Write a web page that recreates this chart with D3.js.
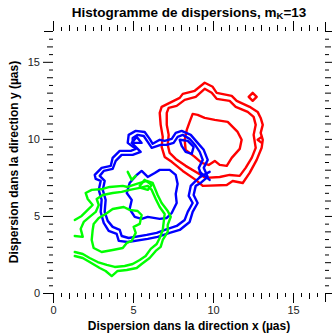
<!DOCTYPE html>
<html>
<head>
<meta charset="utf-8">
<script src="https://cdn.jsdelivr.net/npm/d3@7"></script>
<style>
  html, body { margin: 0; padding: 0; background: #fff; }
  svg { display: block; }
</style>
</head>
<body>
<svg id="chart" width="332" height="335"></svg>
<script>
// axis ranges and labelled ticks
const xDomain = [0, 17];
const yDomain = [0, 17];
const majorTicks = [0, 5, 10, 15];

// contour lines, [x, y] in µas
const redLevel1 = [[6.67,11.69],[6.79,12.08],[7.29,12.34],[7.92,12.66],[8.11,12.92],[8.86,13.12],[9.48,13.64],[9.98,13.38],[10.23,12.99],[11.17,12.79],[11.48,12.47],[12.29,12.08],[12.79,11.75],[12.98,11.36],[13.11,10.91],[12.98,10.39],[13.11,9.94],[13.04,9.42],[12.73,8.64],[12.29,7.79],[11.86,7.14],[11.23,7.27],[10.86,7.01],[9.36,6.95],[8.92,7.34],[8.11,7.92],[7.42,8.51],[6.98,8.83],[6.79,9.48],[6.86,10.13],[6.73,10.91]];
const redLevel2 = [[7.11,11.69],[7.23,12.01],[7.73,12.14],[8.23,12.53],[8.92,12.73],[9.48,13.25],[9.92,12.99],[10.23,12.60],[11.04,12.47],[11.42,12.08],[12.17,11.75],[12.54,11.43],[12.67,10.91],[12.54,10.26],[12.67,9.42],[12.42,8.77],[12.04,8.12],[11.67,7.60],[11.04,7.66],[10.42,7.53],[9.54,7.47],[9.04,7.79],[8.29,8.25],[7.67,8.70],[7.29,9.09],[7.17,9.61],[7.23,10.26],[7.11,10.91]];
const redLevel3 = [[8.73,11.62],[9.04,11.56],[9.48,11.36],[10.11,11.23],[10.92,11.10],[11.54,10.45],[11.79,9.94],[11.67,9.35],[11.17,8.77],[10.86,8.25],[10.42,8.31],[10.11,8.57],[9.73,8.31],[9.29,8.44],[8.86,8.83],[8.29,9.29],[8.23,9.94],[8.36,10.58],[8.54,11.10]];
const redIsland = [[12.48,12.99],[12.73,12.73],[12.48,12.47],[12.23,12.73]];
const redEdge = [[13.04,10.13],[12.79,9.94],[13.04,9.74]];

const blueLevel1 = [[2.61,7.66],[3.04,8.12],[3.61,8.25],[3.73,8.77],[4.17,9.22],[4.86,9.22],[5.17,9.35],[4.67,9.74],[4.73,10.26],[5.17,10.52],[5.73,10.45],[6.04,10.00],[6.23,9.68],[6.67,9.94],[6.98,9.87],[7.42,10.00],[7.67,10.39],[8.04,10.52],[8.61,10.26],[9.04,9.74],[9.42,9.29],[9.67,8.64],[9.42,8.12],[9.67,7.53],[9.23,7.14],[8.92,6.95],[8.79,6.36],[9.04,5.84],[8.73,5.26],[8.54,4.61],[7.92,4.09],[7.29,3.90],[6.54,3.64],[5.92,3.51],[4.67,3.31],[4.11,3.38],[3.98,3.83],[3.48,4.03],[3.17,4.55],[2.98,5.26],[3.04,6.04],[2.86,6.69],[2.98,7.27],[2.67,7.40]];
const blueLevel2 = [[2.92,7.60],[3.17,7.92],[3.73,8.05],[3.92,8.57],[4.29,8.96],[4.98,8.96],[5.48,9.16],[4.98,9.68],[4.98,10.06],[5.29,10.26],[5.67,10.19],[5.92,9.81],[6.17,9.42],[6.73,9.61],[7.11,9.61],[7.54,9.74],[7.79,10.13],[8.11,10.26],[8.54,10.00],[8.92,9.55],[9.17,9.16],[9.36,8.64],[9.11,8.12],[9.29,7.60],[8.92,7.27],[8.61,6.95],[8.48,6.30],[8.73,5.84],[8.42,5.26],[8.23,4.74],[7.73,4.35],[7.17,4.16],[6.48,3.90],[5.86,3.77],[4.73,3.57],[4.29,3.70],[4.17,4.09],[3.73,4.29],[3.42,4.68],[3.23,5.26],[3.29,6.04],[3.11,6.69],[3.23,7.27]];
const blueLevel3 = [[4.79,7.14],[5.23,7.66],[5.54,7.92],[5.92,7.53],[6.36,7.79],[6.67,7.99],[7.29,7.99],[7.67,7.66],[7.79,7.08],[7.67,6.43],[7.73,5.84],[7.42,5.19],[7.11,4.87],[6.67,4.81],[5.92,4.94],[5.54,4.81],[5.11,4.94],[4.79,5.45],[4.92,6.04],[4.61,6.49]];
const blueIslandA = [[4.92,9.74],[5.23,10.13],[5.54,9.74]];
const blueIslandB = [[7.92,9.94],[8.42,9.87],[8.79,9.48],[8.67,9.03],[8.29,9.16],[8.04,9.55]];
const blueCrossA = [[9.17,7.86],[9.79,7.34]];
const blueCrossB = [[9.17,7.53],[9.79,7.86]];

const greenLevel1 = [[1.36,4.74],[1.79,5.00],[2.17,5.39],[2.48,5.71],[2.17,6.10],[2.04,6.49],[2.42,6.69],[3.11,6.75],[3.54,6.88],[4.36,6.95],[4.67,6.88],[5.23,7.08],[5.86,7.27],[6.23,7.14],[6.54,6.36],[6.79,5.84],[7.17,5.32],[7.36,4.94],[7.17,4.42],[7.17,3.96],[6.86,3.44],[6.73,2.99],[6.42,2.73],[6.04,2.27],[5.54,1.88],[5.23,1.62],[4.61,1.49],[4.04,1.43],[3.67,1.10],[3.29,1.43],[2.92,1.62],[2.29,2.01],[1.86,2.27],[1.36,2.40]];
const greenLevel2 = [[1.36,3.70],[1.86,3.64],[1.73,4.16],[1.92,4.61],[2.29,4.94],[2.67,5.26],[2.86,5.71],[2.73,6.10],[3.11,6.36],[3.73,6.49],[4.29,6.56],[4.79,6.69],[5.42,6.82],[5.92,6.95],[6.17,6.69],[6.42,6.10],[6.67,5.58],[6.98,5.13],[6.92,4.61],[6.86,4.09],[6.67,3.57],[6.48,3.18],[6.11,2.86],[5.79,2.40],[5.42,2.14],[4.98,1.88],[4.48,1.75],[3.86,1.69],[3.36,1.82],[2.79,2.01],[2.29,2.27],[1.86,2.53],[1.36,2.66]];
const greenLevel3 = [[2.48,4.09],[2.42,3.44],[2.54,2.92],[3.04,2.66],[3.73,2.79],[4.36,2.92],[4.61,3.25],[4.92,3.38],[5.17,3.90],[5.04,4.29],[5.42,4.48],[5.54,5.06],[5.29,5.32],[4.79,5.39],[4.42,5.58],[3.73,5.45],[3.29,5.13],[2.86,4.87],[2.54,4.48]];
const greenIsland = [[5.42,6.95],[5.73,7.34],[6.17,7.01],[5.92,6.69],[5.48,6.82]];
const greenSpike = [[4.67,7.86],[4.92,7.34],[5.17,7.60]];

const series = [
  { color: '#ff0000', closed: [redLevel1, redLevel2, redLevel3, redIsland], open: [redEdge] },
  { color: '#0000ff', closed: [blueLevel1, blueLevel2, blueLevel3, blueIslandA, blueIslandB], open: [blueCrossA, blueCrossB] },
  { color: '#00ff00', closed: [greenLevel3, greenIsland], open: [greenLevel1, greenLevel2, greenSpike] }
];

const W = 332, H = 335;
const margin = { top: 31, right: 7, bottom: 42, left: 53 };
const font = '"Liberation Sans", Arial, Helvetica, sans-serif';

const svg = d3.select('#chart');

const x = d3.scaleLinear().domain(xDomain).range([margin.left, W - margin.right]);
const y = d3.scaleLinear().domain(yDomain).range([H - margin.bottom, margin.top]);

const intTicks = d3.range(1, 17).filter(v => !majorTicks.includes(v));
const halfTicks = d3.range(0.5, 17, 1);

function drawTicks(axisFn, scale, tx, ty, labelled) {
  const sets = [
    { vals: majorTicks, size: 10, lab: labelled },
    { vals: [17], size: 9, lab: false },
    { vals: intTicks, size: 6, lab: false },
    { vals: halfTicks, size: 4, lab: false }
  ];
  sets.forEach(s => {
    const g = svg.append('g')
      .attr('transform', `translate(${tx},${ty})`)
      .call(axisFn(scale).tickValues(s.vals).tickSize(s.size).tickSizeOuter(0)
        .tickPadding(3).tickFormat(s.lab ? d3.format('d') : () => ''));
    g.select('.domain').remove();
    g.selectAll('line').attr('stroke', '#000').attr('stroke-width', 1);
    g.selectAll('text').attr('font-family', font).attr('font-size', 11).attr('fill', '#222');
  });
}

drawTicks(d3.axisBottom, x, 0, y(0), true);
drawTicks(d3.axisTop, x, 0, y(17), false);
drawTicks(d3.axisLeft, y, x(0), 0, true);
drawTicks(d3.axisRight, y, x(17), 0, false);

// contours
const line = d3.line().x(d => x(d[0])).y(d => y(d[1]));
const closedLine = d3.line().x(d => x(d[0])).y(d => y(d[1])).curve(d3.curveLinearClosed);

series.forEach(s => {
  const g = svg.append('g')
    .attr('fill', 'none')
    .attr('stroke', s.color)
    .attr('stroke-width', 2.4)
    .attr('stroke-linejoin', 'round')
    .attr('stroke-linecap', 'round');
  g.selectAll('path.closed').data(s.closed).join('path').attr('class', 'closed').attr('d', closedLine);
  g.selectAll('path.open').data(s.open).join('path').attr('class', 'open').attr('d', line);
});

// titles
const cx = (x(0) + x(17)) / 2;
const title = svg.append('text')
  .attr('x', cx).attr('y', 17)
  .attr('text-anchor', 'middle')
  .attr('font-family', font).attr('font-size', 13.5).attr('font-weight', 'bold');
title.append('tspan').text('Histogramme de dispersions, m');
title.append('tspan').attr('font-size', 9.5).attr('dy', 1.5).text('K');
title.append('tspan').attr('dy', -1.5).text('=13');

svg.append('text')
  .attr('x', cx).attr('y', 330)
  .attr('text-anchor', 'middle')
  .attr('font-family', font).attr('font-size', 12).attr('font-weight', 'bold')
  .text('Dispersion dans la direction x (µas)');

svg.append('text')
  .attr('transform', `translate(18,${(y(0) + y(17)) / 2}) rotate(-90)`)
  .attr('text-anchor', 'middle')
  .attr('font-family', font).attr('font-size', 12).attr('font-weight', 'bold')
  .text('Dispersion dans la direction y (µas)');
</script>
</body>
</html>
